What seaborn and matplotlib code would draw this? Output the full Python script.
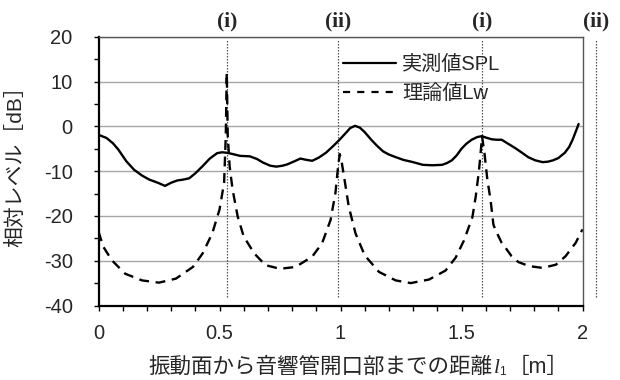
import numpy as np
import pandas as pd
import matplotlib
matplotlib.use("Agg")
import matplotlib.pyplot as plt
import matplotlib.transforms as mtransforms
from matplotlib.ticker import MultipleLocator, FuncFormatter
import seaborn as sns

# ---- data ----
spl_x = [0.0, 0.033, 0.06, 0.082, 0.115, 0.147, 0.18, 0.21, 0.245, 0.275, 0.30, 0.325,
         0.35, 0.375, 0.40, 0.43, 0.46, 0.49, 0.51, 0.53, 0.555, 0.585, 0.625, 0.655,
         0.68, 0.71, 0.735, 0.76, 0.78, 0.81, 0.834, 0.86, 0.883, 0.91, 0.94, 0.97,
         0.996, 1.02, 1.04, 1.06, 1.08, 1.10, 1.127, 1.15, 1.176, 1.20, 1.224, 1.26,
         1.30, 1.34, 1.38, 1.42, 1.44, 1.46, 1.48, 1.50, 1.52, 1.542, 1.565, 1.584,
         1.60, 1.625, 1.645, 1.666, 1.69, 1.72, 1.75, 1.776, 1.805, 1.835, 1.857,
         1.878, 1.90, 1.927, 1.945, 1.959, 1.972, 1.984]
spl_y = [-1.9, -2.6, -3.8, -5.2, -7.8, -9.7, -11.0, -11.9, -12.6, -13.3, -12.6, -12.1,
         -11.9, -11.6, -10.5, -8.9, -7.2, -6.0, -5.8, -5.9, -6.2, -6.6, -6.7, -7.3,
         -8.1, -8.8, -9.0, -8.8, -8.5, -7.8, -7.2, -7.5, -7.7, -7.0, -5.9, -4.4,
         -3.0, -1.6, -0.4, 0.1, -0.3, -1.3, -3.0, -4.3, -5.6, -6.3, -6.8, -7.5,
         -8.0, -8.6, -8.7, -8.6, -8.2, -7.6, -6.5, -5.0, -3.9, -3.0, -2.4, -2.2,
         -2.5, -2.9, -3.0, -3.0, -3.8, -4.8, -5.9, -6.9, -7.6, -8.0, -7.9,
         -7.6, -7.1, -5.9, -4.6, -3.0, -1.2, 0.5]

lw_x = [0.0, 0.02, 0.055, 0.11, 0.18, 0.25, 0.32, 0.39, 0.43, 0.47, 0.50, 0.519,
        0.526, 0.530, 0.534, 0.542, 0.554, 0.575, 0.60, 0.644, 0.69, 0.75, 0.814,
        0.883, 0.924, 0.959, 0.979, 0.990, 0.997, 1.005, 1.014, 1.034, 1.062,
        1.10, 1.159, 1.228, 1.29, 1.366, 1.434, 1.476, 1.51, 1.545, 1.559, 1.572,
        1.579, 1.585, 1.595, 1.607, 1.62, 1.632, 1.648, 1.666, 1.683, 1.707,
        1.735, 1.779, 1.834, 1.89, 1.93, 1.972, 2.0]
lw_y = [-23.5, -26.9, -29.9, -32.9, -34.4, -34.9, -34.0, -31.4, -28.4, -23.9, -18.6, -12.6,
        -2.0, 12.0, -2.0, -9.0, -14.1, -20.1, -24.6, -28.4, -31.0, -31.8, -31.4,
        -29.1, -26.1, -20.9, -14.9, -9.0, -6.2, -8.0, -11.0, -17.9, -23.9,
        -28.8, -32.5, -34.4, -35.0, -34.2, -32.2, -29.3, -25.5, -20.3, -15.6, -10.0,
        -5.9, -2.3, -6.0, -12.0, -16.4, -22.0, -24.0, -26.0, -27.2, -29.0,
        -30.3, -31.2, -31.6, -30.9, -29.0, -26.0, -23.0]

marker_x = [0.53, 0.99, 1.585, 2.055]
marker_labels = ["(i)", "(ii)", "(i)", "(ii)"]

series_names = ["実測値SPL", "理論値Lw"]
x_ticks = [0, 0.5, 1, 1.5, 2]
y_ticks = [-40, -30, -20, -10, 0, 10, 20]

# ---- style ----
sns.set_theme(style="white")
plt.rcParams["font.family"] = ["Liberation Sans", "Noto Sans CJK JP", "DejaVu Sans"]
plt.rcParams["axes.unicode_minus"] = False

fig = plt.figure(figsize=(6.2, 3.8), dpi=100)
ax = fig.add_axes([98.5 / 620, 1 - 305.5 / 380, 484 / 620, 268.8 / 380])

df_spl = pd.DataFrame({"x": spl_x, "y": spl_y})
df_lw = pd.DataFrame({"x": lw_x, "y": lw_y})

sns.lineplot(data=df_spl, x="x", y="y", ax=ax, color="black", linewidth=1.7,
             sort=False, label=series_names[0])
sns.lineplot(data=df_lw, x="x", y="y", ax=ax, color="black", linewidth=1.7,
             sort=False, label=series_names[1], dashes=False)
ax.lines[1].set_dashes([4.2, 2.8])

ax.set_xlim(0, 2)
ax.set_ylim(-40, 20)
ax.set_xticks(x_ticks)
ax.set_yticks(y_ticks)
ax.xaxis.set_minor_locator(MultipleLocator(0.1))
ax.yaxis.set_minor_locator(MultipleLocator(5))
ax.xaxis.set_major_formatter(FuncFormatter(lambda v, p: f"{v:g}"))
ax.yaxis.set_major_formatter(FuncFormatter(lambda v, p: f"{v:g}"))
ax.tick_params(axis="both", which="both", direction="out", color="black",
               width=1.0, bottom=True, left=True, top=False, right=False, length=3.6)
ax.tick_params(axis="both", which="major", labelsize=14.5)
ax.tick_params(axis="y", which="major", pad=15)
ax.tick_params(axis="x", which="major", pad=10)

ax.grid(False)
ax.yaxis.grid(True, which="major", color="#a6a6a6", linewidth=1.0)
ax.set_axisbelow(True)

for s in ["left", "bottom"]:
    ax.spines[s].set_color("black")
    ax.spines[s].set_linewidth(1.6)
for s in ["top", "right"]:
    ax.spines[s].set_color("#555555")
    ax.spines[s].set_linewidth(1.0)
    ax.spines[s].set_visible(True)

# vertical dotted marker lines and labels
ax.vlines(marker_x, -38, 19.3, colors="#555555", linestyles=(0, (1.2, 1.2)),
          linewidth=0.9, clip_on=False, zorder=1.5)
trans = mtransforms.blended_transform_factory(ax.transData, ax.transAxes)
for xv, lab in zip(marker_x, marker_labels):
    ax.text(xv, 1.055, lab, transform=trans, ha="center", va="center",
            family="Liberation Serif", fontweight="bold", fontsize=15.5,
            clip_on=False)

# legend
leg = ax.legend(loc="center left", bbox_to_anchor=(0.506, 0.8425), frameon=False,
                borderpad=0, borderaxespad=0, handlelength=2.6, handletextpad=0.3,
                labelspacing=0.5, fontsize=14.5)
for h in leg.get_lines():
    h.set_linewidth(1.6)
leg.get_lines()[1].set_dashes([3.2, 3.2])

# axis labels
ax.set_xlabel("")
ax.set_ylabel("相対レベル［dB］", fontsize=15)
ax.yaxis.set_label_coords(-0.152, 0.537)

t1 = fig.text(148 / 620, 1 - 373 / 380, "振動面から音響管開口部までの距離",
              ha="left", va="baseline", fontsize=15.5)
t2 = ax.annotate("l", xy=(1, 0), xycoords=t1, xytext=(1, 0), textcoords="offset points",
                 ha="left", va="bottom", family="Liberation Serif", style="italic",
                 fontsize=15.5)
t3 = ax.annotate("1", xy=(1, 0), xycoords=t2, xytext=(0, 0), textcoords="offset points",
                 ha="left", va="bottom", fontsize=8.5)
t4 = ax.annotate("［m］", xy=(1, 0), xycoords=t3, xytext=(1, 0), textcoords="offset points",
                 ha="left", va="bottom", fontsize=15.5)
for t in (t2, t3, t4):
    t.set_annotation_clip(False)

fig.savefig("out.png", dpi=100)
